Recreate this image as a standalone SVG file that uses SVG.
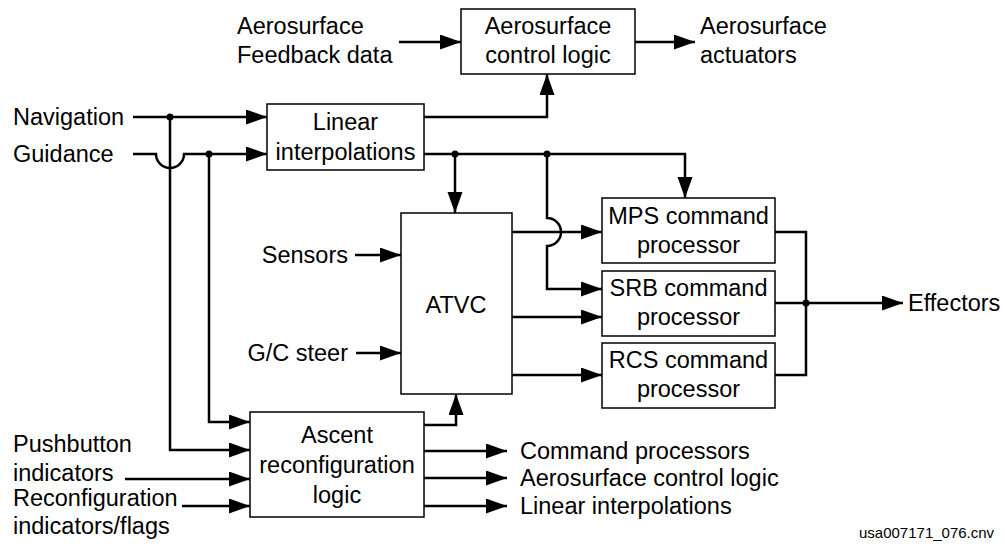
<svg xmlns="http://www.w3.org/2000/svg" width="1005" height="546" viewBox="0 0 1005 546">
<style>
text{font-family:"Liberation Sans",Arial,sans-serif;font-size:23.5px;fill:#000}
.c{text-anchor:middle}
.e{text-anchor:end}
.box{fill:#fff;stroke:#000;stroke-width:1.5}
.ln{fill:none;stroke:#000;stroke-width:2.5}
.ar{marker-end:url(#ah)}
.ft{font-size:15px}
</style>
<defs>
<marker id="ah" markerUnits="userSpaceOnUse" markerWidth="22" markerHeight="16" refX="21" refY="7.5" orient="auto" viewBox="0 0 22 16">
<path d="M0,0 L21,7.5 L0,15 Z" fill="#000"/>
</marker>
</defs>
<g id="connectors">
<path class="ln ar" d="M399,42 H461"/>
<path class="ln ar" d="M635,42 H695"/>
<path class="ln ar" d="M133,117 H267"/>
<path class="ln ar" d="M133,154 H156 A14,14 0 0 0 184,154 H267"/>
<path class="ln ar" d="M424,117 H547 V74"/>
<path class="ln ar" d="M424,154 H685 V198"/>
<path class="ln ar" d="M455,154 V213"/>
<path class="ln ar" d="M547,154 V218 A14,14 0 0 1 547,246 V289 H602"/>
<path class="ln ar" d="M512,232 H602"/>
<path class="ln ar" d="M512,317 H602"/>
<path class="ln ar" d="M512,375 H602"/>
<path class="ln ar" d="M355,255 H401"/>
<path class="ln ar" d="M356,353 H401"/>
<path class="ln" d="M775,232 H806 V375 H775"/>
<path class="ln ar" d="M775,303 H903"/>
<path class="ln ar" d="M424,425 H456 V394"/>
<path class="ln ar" d="M170,117 V450 H250"/>
<path class="ln ar" d="M209,154 V422 H250"/>
<path class="ln ar" d="M125,479 H250"/>
<path class="ln ar" d="M182,506 H250"/>
<path class="ln ar" d="M424,451 H507"/>
<path class="ln ar" d="M424,478 H507"/>
<path class="ln ar" d="M424,506 H507"/>
<circle cx="170" cy="117" r="3.5"/>
<circle cx="209" cy="154" r="3.5"/>
<circle cx="455" cy="154" r="3.5"/>
<circle cx="547" cy="154" r="3.5"/>
<circle cx="806" cy="303" r="3.5"/>
</g>
<g id="aero-ctrl">
<rect class="box" x="461" y="9" width="174" height="65"/>
<text class="c" x="548" y="34">Aerosurface</text>
<text class="c" x="548" y="63">control logic</text>
</g>
<g id="linear">
<rect class="box" x="267" y="104" width="157" height="66"/>
<text class="c" x="345.5" y="130">Linear</text>
<text class="c" x="345.5" y="160">interpolations</text>
</g>
<g id="atvc">
<rect class="box" x="401" y="213" width="111" height="181"/>
<text class="c" x="456" y="313">ATVC</text>
</g>
<g id="mps">
<rect class="box" x="602" y="198" width="173" height="65"/>
<text class="c" x="688.5" y="224">MPS command</text>
<text class="c" x="688.5" y="253">processor</text>
</g>
<g id="srb">
<rect class="box" x="602" y="271" width="173" height="65"/>
<text class="c" x="688.5" y="296">SRB command</text>
<text class="c" x="688.5" y="325">processor</text>
</g>
<g id="rcs">
<rect class="box" x="602" y="343" width="173" height="65"/>
<text class="c" x="688.5" y="368">RCS command</text>
<text class="c" x="688.5" y="397">processor</text>
</g>
<g id="ascent">
<rect class="box" x="250" y="412" width="174" height="105"/>
<text class="c" x="337" y="443">Ascent</text>
<text class="c" x="337" y="473">reconfiguration</text>
<text class="c" x="337" y="503">logic</text>
</g>
<g id="labels">
<text x="237" y="34">Aerosurface</text>
<text x="237" y="63">Feedback data</text>
<text x="700" y="34">Aerosurface</text>
<text x="700" y="63">actuators</text>
<text x="13" y="125">Navigation</text>
<text x="13" y="162">Guidance</text>
<text class="e" x="348" y="263">Sensors</text>
<text class="e" x="348" y="361">G/C steer</text>
<text x="908" y="311">Effectors</text>
<text x="13" y="452">Pushbutton</text>
<text x="13" y="481">indicators</text>
<text x="13" y="506">Reconfiguration</text>
<text x="13" y="534">indicators/flags</text>
<text x="520" y="459">Command processors</text>
<text x="520" y="486">Aerosurface control logic</text>
<text x="520" y="514">Linear interpolations</text>
<text class="ft" x="859" y="538">usa007171_076.cnv</text>
</g>
</svg>
